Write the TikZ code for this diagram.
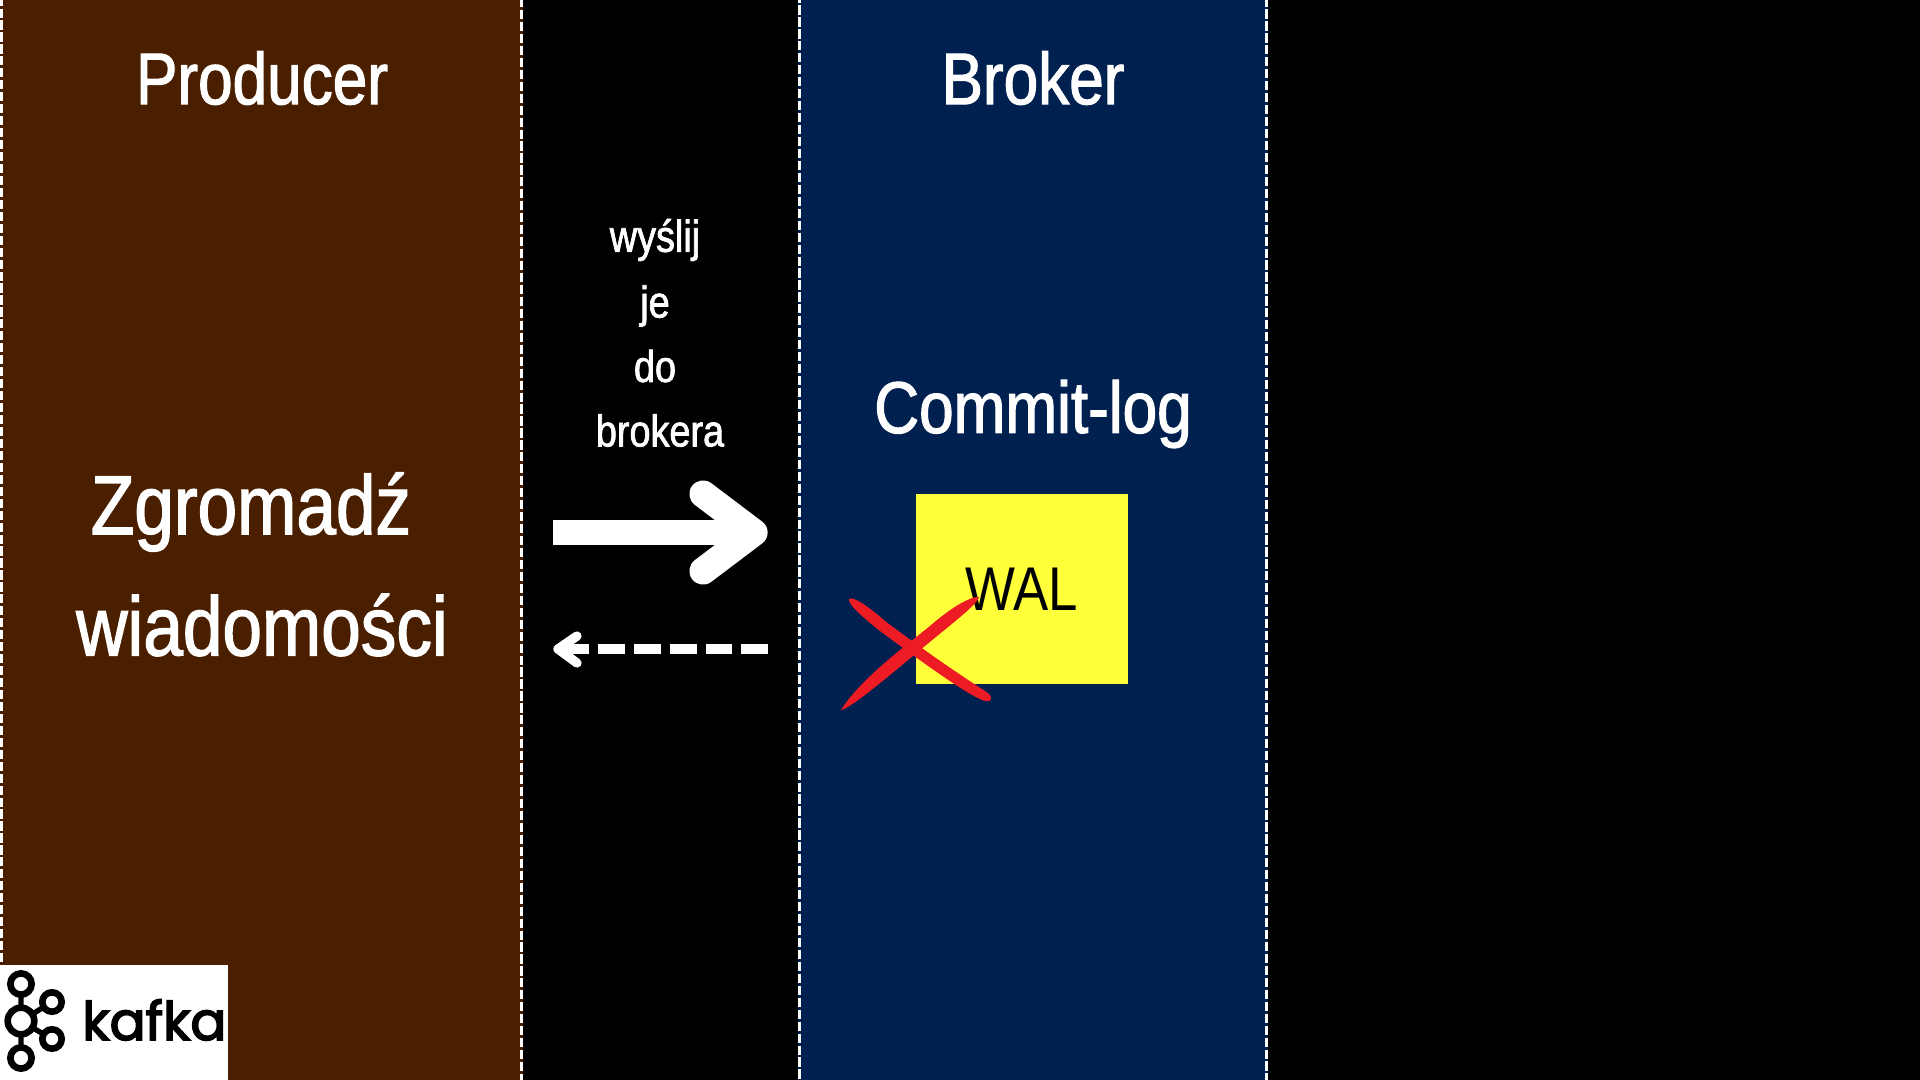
\documentclass[tikz,border=0pt]{standalone}
\usepackage{fontspec}
\setmainfont[FakeStretch=0.85,FakeBold=1.6]{Liberation Sans}
\newfontfamily\walfont[FakeStretch=0.855]{Liberation Sans}
\newfontfamily\kafkafont[FakeBold=3]{Poppins}
\definecolor{prodbrown}{HTML}{4A1F00}
\definecolor{brokerblue}{HTML}{00214F}
\definecolor{walyellow}{HTML}{FFFF3A}
\definecolor{xred}{HTML}{ED1C24}
\tikzset{
  px/.style={x=0.0264583cm,y=-0.0264583cm},
  panelline/.style={draw=white,line width=2.25pt,dash pattern=on 6.9pt off 2.1pt},
  heading/.style={text=white,font=\fontsize{55}{55}\selectfont,inner sep=0pt},
  big/.style={text=white,font=\fontsize{63}{63}\selectfont,inner sep=0pt},
  small/.style={text=white,font=\fontsize{33.5}{33.5}\selectfont,inner sep=0pt},
  redstroke/.style={fill=xred,draw=none},
  logoring/.style={draw=black,line width=5pt,circle,inner sep=0pt,fill=white}
}
\begin{document}
\begin{tikzpicture}[px]
\useasboundingbox (0,0) rectangle (1920,1080);
\fill[black] (0,0) rectangle (1920,1080);
\fill[prodbrown] (0,0) rectangle (523,1080);
\fill[brokerblue] (798,0) rectangle (1268,1080);
\coordinate (p1t) at (1.5,0); \coordinate (p1b) at (1.5,1080);
\coordinate (p2t) at (521.5,0); \coordinate (p2b) at (521.5,1080);
\coordinate (p3t) at (799.5,0); \coordinate (p3b) at (799.5,1080);
\coordinate (p4t) at (1266.5,0); \coordinate (p4b) at (1266.5,1080);
\draw[panelline,dash phase=2.6pt] (p1t)--(p1b);
\draw[panelline,dash phase=1.5pt] (p2t)--(p2b);
\draw[panelline,dash phase=4.9pt] (p3t)--(p3b);
\draw[panelline,dash phase=1.9pt] (p4t)--(p4b);
\node[heading] (producer) at (262,78) {Producer};
\node[heading] (broker) at (1033,78) {Broker};
\node[heading] (commit) at (1033,414) {Commit-log};
\node[big] (zgromadz) at (251,512) {Zgromadź};
\node[big] (wiadomosci) at (262,625) {wiadomości};
\node[small] (wyslij) at (655,240) {wyślij};
\node[small] (je) at (655,306) {je};
\node[small] (do) at (655,366) {do};
\node[small] (brokera) at (660,430.5) {brokera};
\node[fill=walyellow,inner sep=0pt,anchor=north west,
  text=black,font=\walfont\fontsize{46.5}{46.5}\selectfont,
  minimum width=159.3pt,minimum height=143pt] (wal) at (916,493.7) {WAL};
% arrows
\coordinate (a1s) at (553,532.5); \coordinate (a1e) at (748,532.5);
\draw[white,line width=19.5pt] (a1s)--(a1e);
\draw[white,line width=20.5pt,line cap=round,line join=round] (703,494)--(754,532.5)--(703,571);
\coordinate (a2s) at (768.3,649); \coordinate (a2e) at (560,649);
\draw[white,line width=7pt,dash pattern=on 20.25pt off 6.75pt] (a2s)--(a2e);
\draw[white,line width=7pt,line cap=round,line join=round] (577,636)--(558,649)--(577,663);
% red cross
\fill[redstroke] (849,599) .. controls (853,596) and (868,606) .. (885,621)
  .. controls (930,655) and (965,678) .. (988,693)
  .. controls (993,697) and (992,702) .. (986,701)
  .. controls (975,700) and (930,668) .. (880,631)
  .. controls (860,615) and (848,604) .. (849,599) -- cycle;
\fill[redstroke] (979,597) .. controls (973,596) and (955,604) .. (930,626)
  .. controls (900,650) and (860,680) .. (841,710)
  .. controls (850,709) and (890,675) .. (925,646)
  .. controls (950,625) and (977,605) .. (979,597) -- cycle;
% logo
\fill[white] (0,965) rectangle (228,1080);
\coordinate (lc) at (21,1021);
\coordinate (lt) at (21,984);
\coordinate (lb) at (21,1058);
\coordinate (lr1) at (52,1002);
\coordinate (lr2) at (52,1039);
\draw[black,line width=4pt] (lt)--(lb) (lc)--(lr1) (lc)--(lr2);
\node[logoring,minimum size=16pt] (ring1) at (lt) {};
\node[logoring,minimum size=16pt] (ring2) at (lb) {};
\node[logoring,minimum size=20pt] (ring3) at (lc) {};
\node[logoring,minimum size=14.6pt] (ring4) at (lr1) {};
\node[logoring,minimum size=14.6pt] (ring5) at (lr2) {};
\node[text=black,font=\kafkafont\fontsize{40}{40}\selectfont,inner sep=0pt,anchor=base west] (kafka) at (82,1040) {kafka};
\end{tikzpicture}
\end{document}
